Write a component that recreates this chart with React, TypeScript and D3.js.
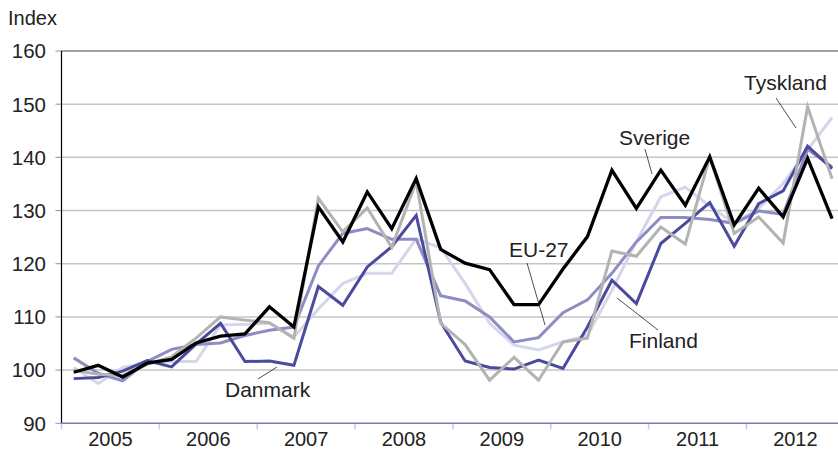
import React from "react";
import * as d3 from "d3";

const years = ["2005", "2006", "2007", "2008", "2009", "2010", "2011", "2012"];
const yTicks = [90, 100, 110, 120, 130, 140, 150, 160];

const sverige = [99.6, 100.9, 98.7, 101.3, 102.0, 105.1, 106.4, 106.8, 111.9, 108.1, 130.7, 124.1, 133.5, 126.6, 136.0, 122.7, 120.1, 118.9, 112.3, 112.3, 119.0, 125.1, 137.6, 130.4, 137.6, 131.0, 140.1, 127.3, 134.2, 128.8, 139.8, 128.5];
const tyskland = [100.0, 99.2, 99.0, 101.1, 102.5, 106.0, 110.0, 109.4, 108.9, 106.0, 132.3, 126.0, 130.5, 123.1, 135.4, 108.8, 104.8, 98.1, 102.4, 98.1, 105.3, 106.0, 122.4, 121.4, 126.9, 123.7, 140.1, 125.7, 128.8, 123.9, 149.5, 136.0];
const danmark = [98.4, 98.6, 99.8, 101.8, 100.6, 104.9, 108.8, 101.6, 101.7, 100.9, 115.7, 112.2, 119.4, 123.2, 129.1, 109.0, 101.7, 100.5, 100.2, 101.9, 100.3, 108.1, 116.9, 112.5, 123.8, 127.6, 131.5, 123.3, 131.3, 133.7, 142.1, 137.9];
const eu27 = [102.3, 99.4, 98.0, 101.6, 103.9, 104.8, 105.1, 106.5, 107.5, 108.1, 119.6, 125.7, 126.6, 124.6, 124.6, 114.0, 113.0, 110.0, 105.3, 106.1, 110.8, 113.2, 118.2, 124.1, 128.7, 128.7, 128.3, 127.6, 129.9, 129.3, 141.5, 138.2];
const finland = [100.5, 97.5, 100.5, 101.3, 101.6, 101.6, 108.5, 108.6, 108.8, 106.2, 111.5, 116.3, 118.2, 118.2, 124.7, 123.0, 116.3, 108.8, 104.7, 103.8, 105.3, 106.5, 115.0, 124.2, 132.6, 134.4, 130.8, 127.6, 130.4, 135.1, 141.4, 147.5];

const seriesNames = ["Finland", "EU-27", "Danmark", "Tyskland", "Sverige"];
const seriesData = [finland, eu27, danmark, tyskland, sverige];
const seriesColors = ["#d5d5ec", "#8d8dc3", "#4a4a9e", "#b3b3b3", "#000000"];
const seriesWidths = [3, 3, 3, 3, 3.3];

const W = 838;
const H = 451;
const left = 61.5;
const right = 844.3;
const top = 51;
const bottom = 423.3;
const nQ = years.length * 4;

const font = "'Liberation Sans', Arial, sans-serif";

export default function App() {
  const x = d3.scaleLinear().domain([0, nQ]).range([left, right]);
  const y = d3.scaleLinear().domain([90, 160]).range([bottom, top]);
  const line = d3
    .line<number>()
    .x((_, i) => x(i + 0.5))
    .y((d) => y(d));

  const annotations = [
    { text: "Danmark", tx: 225, ty: 397, x1: 258, y1: 379, x2: 277, y2: 367 },
    { text: "EU-27", tx: 509, ty: 257, x1: 527, y1: 263, x2: 545, y2: 325 },
    { text: "Sverige", tx: 619, ty: 145, x1: 645, y1: 149, x2: 652, y2: 174 },
    { text: "Finland", tx: 629, ty: 348, x1: 658, y1: 330, x2: 617, y2: 298 },
    { text: "Tyskland", tx: 744, ty: 90, x1: 776, y1: 98, x2: 796, y2: 128 },
  ];

  return (
    <svg
      width={W}
      height={H}
      style={{ position: "absolute", left: 0, top: 0, background: "#fff" }}
    >
      {yTicks.map((t) => (
        <g key={t}>
          {t > 90 && t < 160 && (
            <line x1={left} x2={W} y1={y(t)} y2={y(t)} stroke="#c4c4c4" strokeWidth={1.5} />
          )}
          <line x1={left - 6} x2={left} y1={y(t)} y2={y(t)} stroke="#8c8cc4" strokeWidth={1} />
          <text
            x={46}
            y={y(t)}
            dy="0.36em"
            textAnchor="end"
            fontFamily={font}
            fontSize={20.5}
            fill="#222"
          >
            {t}
          </text>
        </g>
      ))}
      <line x1={left} x2={W} y1={y(160)} y2={y(160)} stroke="#444" strokeWidth={1} />
      {d3.range(years.length + 1).map((k) => (
        <line
          key={k}
          x1={x(k * 4)}
          x2={x(k * 4)}
          y1={bottom}
          y2={bottom + 6}
          stroke="#c8c8de"
          strokeWidth={1.5}
        />
      ))}
      {years.map((yr, k) => (
        <text
          key={yr}
          x={x(k * 4 + 2)}
          y={446}
          textAnchor="middle"
          fontFamily={font}
          fontSize={20}
          fill="#222"
        >
          {yr}
        </text>
      ))}
      {seriesData.map((d, i) => (
        <path
          key={seriesNames[i]}
          d={line(d) || ""}
          fill="none"
          stroke={seriesColors[i]}
          strokeWidth={seriesWidths[i]}
          strokeLinejoin="miter"
        />
      ))}
      <line x1={left} x2={left} y1={top} y2={bottom} stroke="#000" strokeWidth={1.2} />
      <line x1={left} x2={W} y1={bottom} y2={bottom} stroke="#7b7bb8" strokeWidth={1.5} />
      {annotations.map((a) => (
        <g key={a.text}>
          <line x1={a.x1} y1={a.y1} x2={a.x2} y2={a.y2} stroke="#222" strokeWidth={0.8} />
          <text x={a.tx} y={a.ty} fontFamily={font} fontSize={21} fill="#222">
            {a.text}
          </text>
        </g>
      ))}
      <text x={8} y={25} fontFamily={font} fontSize={20} fill="#222">
        Index
      </text>
    </svg>
  );
}
